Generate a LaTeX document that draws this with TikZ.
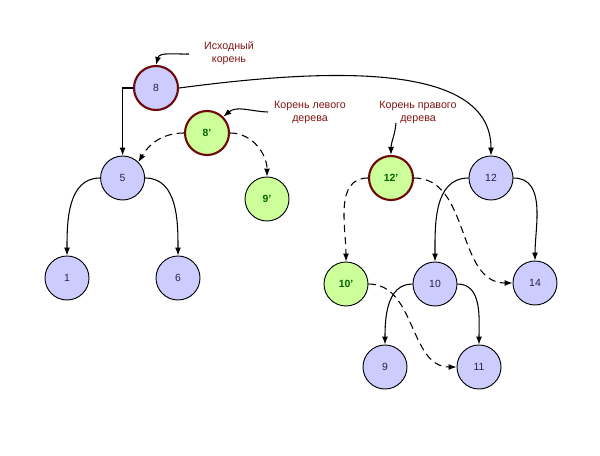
\documentclass[tikz,border=0pt]{standalone}
\usepackage{fontspec}
\setmainfont{Liberation Sans}
\usetikzlibrary{arrows.meta}
\definecolor{keyblue}{RGB}{204,204,255}
\definecolor{keygreen}{RGB}{204,255,153}
\definecolor{rootred}{RGB}{110,10,10}
\definecolor{notered}{RGB}{128,20,20}
\definecolor{bluetext}{RGB}{35,35,80}
\definecolor{greentext}{RGB}{0,100,0}
\begin{document}
\begin{tikzpicture}[>={Latex[length=6pt,width=4.5pt]},x=0.75pt,y=-0.75pt,line width=0.8pt,
  key/.style={circle,draw=black,line width=0.7pt,fill=keyblue,minimum size=33pt,inner sep=0pt,
    text=bluetext,font=\fontsize{7.8}{9}\selectfont},
  copy/.style={key,fill=keygreen,text=greentext,font=\fontsize{7.8}{9}\selectfont\bfseries},
  root/.style={line width=1.6pt,draw=rootred},
  note/.style={align=center,text=notered,font=\fontsize{8}{9.75}\selectfont},
  ptr/.style={->,dash pattern=on 5.5pt off 3.5pt}]
\useasboundingbox (0,0) rectangle (600,456);
% old tree
\node (n8) at (156,88) [key,root] {8};
\node (n5) at (122.6,178) [key] {5};
\node (n1) at (67,278) [key] {1};
\node (n6) at (178,278) [key] {6};
\node (n12) at (491,178) [key] {12};
\node (n10) at (435,284) [key] {10};
\node (n14) at (535,283) [key] {14};
\node (n9) at (385,367) [key] {9};
\node (n11) at (479,367) [key] {11};
% new copies
\node (c8) at (207,133) [copy,root] {8'};
\node (c9) at (267,199) [copy] {9'};
\node (c12) at (391,178) [copy,root] {12'};
\node (c10) at (346,284) [copy] {10'};
% notes
\node (t8) at (229,53) [note] {Исходный\\корень};
\node (tl) at (310,112) [note] {Корень левого\\дерева};
\node (tr) at (418,112) [note] {Корень правого\\дерева};
\coordinate (a8) at (189,54);
\coordinate (al) at (268,112);
\coordinate (ar) at (396,123);
\draw[->] (a8) to[out=182,in=75] (n8.north);
\draw[->] (al) to[out=178,in=40] (c8.north east);
\draw[->] (ar) to[out=-95,in=90] (c12.north);
% old links
\draw[->] (n8.west) -| (n5.north);
\draw[->] (n8.east) .. controls (330,68) and (491,62) .. (n12.north);
\draw[->] (n5.west) to[out=180,in=90] (n1.north);
\draw[->] (n5.east) to[out=0,in=90] (n6.north);
\draw[->] (n12.west) to[out=180,in=90] (n10.north);
\draw[->] (n12.east) to[out=0,in=90] (n14.north);
\draw[->] (n10.west) to[out=180,in=90] (n9.north);
\draw[->] (n10.east) to[out=0,in=90] (n11.north);
% new links
\draw[ptr] (c8.west) to[out=180,in=60] (n5.north east);
\draw[ptr] (c8.east) to[out=0,in=90] (c9.north);
\draw[ptr] (c12.west) to[out=180,in=90] (c10.north);
\draw[ptr] (c12.east) to[out=0,in=180] (n14.west);
\draw[ptr] (c10.east) to[out=0,in=180] (n11.west);
\end{tikzpicture}
\end{document}
